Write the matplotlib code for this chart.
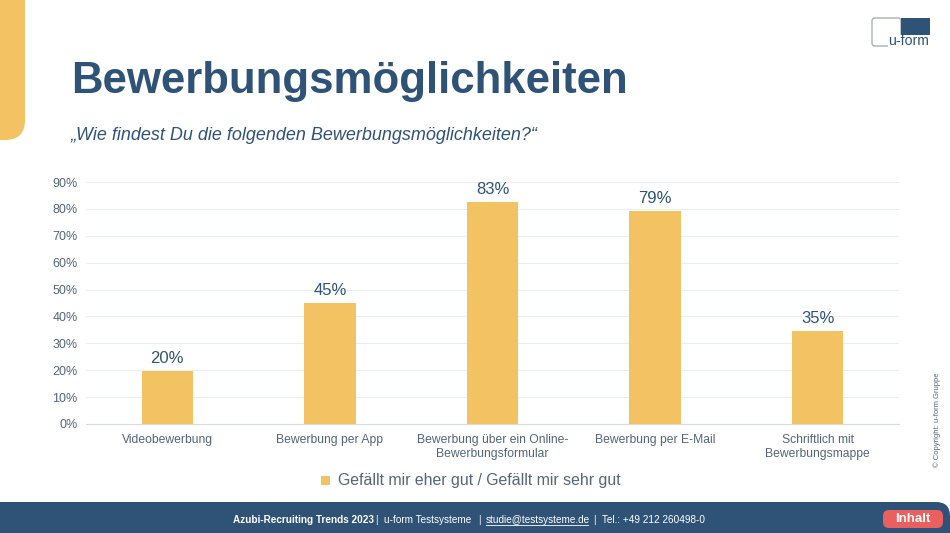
import matplotlib
matplotlib.use('Agg')
import matplotlib.pyplot as plt
from matplotlib.patches import FancyBboxPatch, Rectangle

plt.rcParams['font.family'] = ['Liberation Sans', 'DejaVu Sans']

W, H = 950, 533
BLUE = '#2f5377'
YELLOW = '#f3c262'
GREY = '#53667a'

categories = ['Videobewerbung', 'Bewerbung per App',
              'Bewerbung über ein Online-\nBewerbungsformular',
              'Bewerbung per E-Mail',
              'Schriftlich mit\nBewerbungsmappe']
values = [19.6, 45.0, 82.6, 79.2, 34.6]
yticks = [0, 10, 20, 30, 40, 50, 60, 70, 80, 90]
legend_label = 'Gefällt mir eher gut / Gefällt mir sehr gut'


def fx(px):
    return px / W


def fy(py):
    return 1 - py / H


fig = plt.figure(figsize=(9.5, 5.33), dpi=100, facecolor='white')

# background layer in pixel coordinates
bg = fig.add_axes([0, 0, 1, 1], zorder=0)
bg.set_xlim(0, W)
bg.set_ylim(H, 0)
bg.axis('off')

# yellow tab top left
bg.add_patch(FancyBboxPatch((-30, -30), 55, 170, boxstyle='round,pad=0,rounding_size=20',
                            fc=YELLOW, ec='none'))
# footer bar
bg.add_patch(FancyBboxPatch((-30, 502), W + 30, 60, boxstyle='round,pad=0,rounding_size=14',
                            fc=BLUE, ec='none'))
# "Inhalt" button
bg.add_patch(FancyBboxPatch((883, 510), 60, 18, boxstyle='round,pad=0,rounding_size=6',
                            fc='#e9605f', ec='none'))
# logo
bg.add_patch(FancyBboxPatch((872, 18), 29, 28, boxstyle='round,pad=0,rounding_size=3',
                            fc='white', ec='#a9b0b8', lw=1))
bg.add_patch(Rectangle((901, 18), 29, 17, fc=BLUE, ec='none'))
bg.add_patch(Rectangle((888, 35), 44, 13, fc='white', ec='none'))
bg.text(909, 41, 'u-form', fontsize=10.2, color=BLUE, ha='center', va='center')

# chart
ax = fig.add_axes([fx(86), fy(424), fx(899 - 86), (424 - 182) / H], zorder=1)
ax.patch.set_alpha(0)
x = range(len(categories))
ax.bar(x, values, width=0.315, color=YELLOW, zorder=3)
for i, v in zip(x, values):
    ax.text(i, v + 1.8, f'{v:.0f}%', ha='center', va='bottom', fontsize=12, color=BLUE)
ax.set_xlim(-0.5, 4.5)
ax.set_ylim(0, 90)
ax.set_yticks(yticks)
ax.set_yticklabels([f'{t}%' for t in yticks], fontsize=9, color=GREY)
ax.set_xticks(list(x))
ax.set_xticklabels(categories, fontsize=8.7, color=GREY, linespacing=1.2)
ax.tick_params(length=0)
ax.tick_params(axis='y', pad=6)
ax.tick_params(axis='x', pad=7)
ax.grid(axis='y', color='#e8eef2', lw=0.8, zorder=0)
for s in ax.spines.values():
    s.set_visible(False)
ax.spines['bottom'].set_visible(True)
ax.spines['bottom'].set_color('#d5dbe1')
ax.spines['bottom'].set_linewidth(0.8)

# texts
fig.text(fx(71.5), fy(81), 'Bewerbungsmöglichkeiten', fontsize=31.5, fontweight='bold',
         color=BLUE, va='center', zorder=2)
fig.text(fx(71), fy(136), '„Wie findest Du die folgenden Bewerbungsmöglichkeiten?“', fontsize=13,
         style='italic', color=BLUE, va='center', zorder=2)

# legend
bg.add_patch(Rectangle((321, 476), 9, 9, fc=YELLOW, ec='none'))
fig.text(fx(338), fy(481), legend_label, fontsize=11.45, color=GREY, va='center', zorder=2)

# footer text
fig.text(fx(233), fy(520), 'Azubi-Recruiting Trends 2023', fontsize=7.2, fontweight='bold',
         color='white', va='center', zorder=2)
fig.text(fx(376), fy(520), '|  u-form Testsysteme', fontsize=7.2, color='white', va='center', zorder=2)
fig.text(fx(478), fy(520), '|', fontsize=7.2, color='white', va='center', zorder=2)
fig.text(fx(486), fy(520), 'studie@testsysteme.de', fontsize=7.2, color='white', va='center', zorder=2)
bg.plot([486, 588], [525, 525], color='white', lw=0.6)
fig.text(fx(594), fy(520), '|  Tel.: +49 212 260498-0', fontsize=7.2, color='white', va='center', zorder=2)
fig.text(fx(913), fy(519), 'Inhalt', fontsize=9.5, fontweight='bold', color='white',
         ha='center', va='center', zorder=2)

# copyright
fig.text(fx(937), fy(420), '© Copyright: u-form Gruppe', fontsize=5.5, color=GREY, rotation=90,
         ha='center', va='center', zorder=2)

fig.savefig('out.png', dpi=100)
